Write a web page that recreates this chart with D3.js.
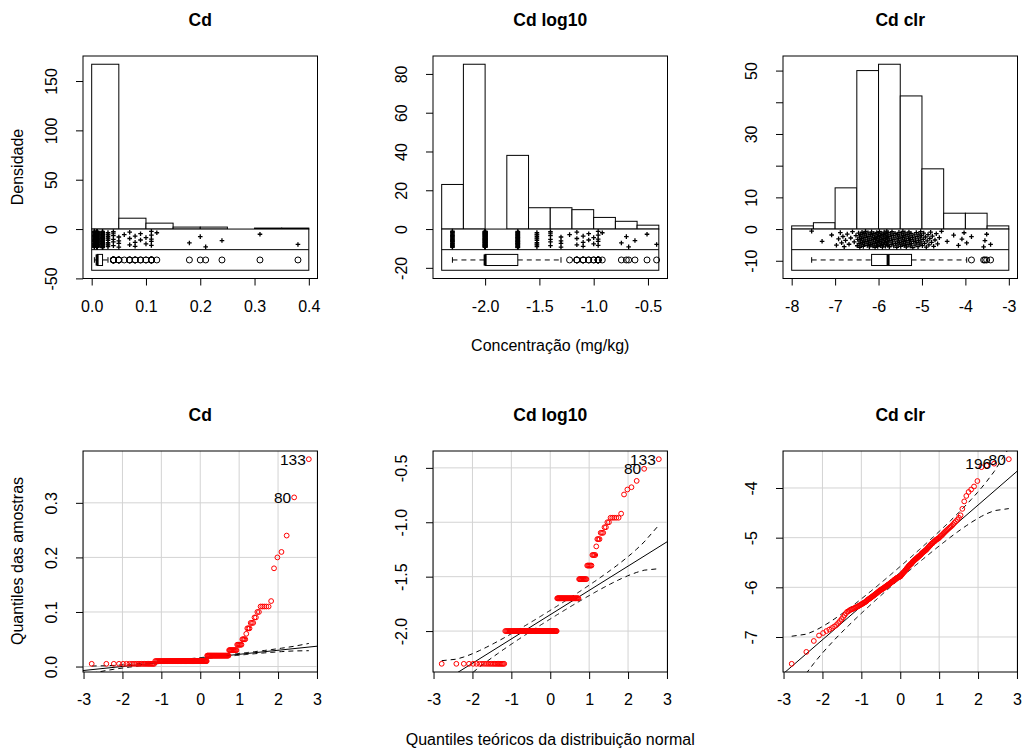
<!DOCTYPE html>
<html>
<head>
<meta charset="utf-8">
<script src="https://cdn.jsdelivr.net/npm/d3@7"></script>
<style>
  body { margin: 0; background: #fff; }
  svg { display: block; }
  text { font-family: "Liberation Sans", Arial, sans-serif; fill: #000; }
</style>
</head>
<body>
<svg id="chart" width="1022" height="751"></svg>
<script>
// Cd concentrations (mg/kg): distinct values and how many samples have each
const cdLevels = [0.005, 0.01, 0.02, 0.03, 0.04, 0.05, 0.06, 0.07, 0.08, 0.09, 0.1, 0.11, 0.12, 0.18, 0.2, 0.21, 0.24, 0.31, 0.38];
const cdCounts = [23, 85, 38, 11, 6, 4, 1, 3, 3, 2, 2, 5, 1, 1, 1, 1, 1, 1, 1];

const clrSample = [
  -7.54, -7.30, -7.08,
  -6.97, -6.92, -6.88, -6.85, -6.82, -6.79, -6.76, -6.72, -6.68, -6.64, -6.60, -6.56, -6.52,
  -6.49, -6.48, -6.46, -6.45, -6.44, -6.43, -6.42, -6.41, -6.40, -6.39,
  -6.38, -6.37, -6.36, -6.35, -6.34, -6.33, -6.32, -6.31, -6.30, -6.29,
  -6.28, -6.26, -6.25, -6.24, -6.23, -6.22, -6.21, -6.20, -6.19, -6.18,
  -6.17, -6.16, -6.15, -6.14, -6.13, -6.12, -6.11, -6.10, -6.09, -6.08,
  -6.07, -6.06, -6.05, -6.05, -6.04, -6.03, -6.02, -6.02, -6.01, -6.00,
  -5.99, -5.98, -5.98, -5.97, -5.96, -5.95, -5.94, -5.94, -5.93, -5.92,
  -5.91, -5.90, -5.89, -5.89, -5.88, -5.87, -5.86, -5.85, -5.84, -5.84,
  -5.83, -5.82, -5.81, -5.81, -5.80, -5.80, -5.79, -5.79,
  -5.78, -5.78, -5.76, -5.75, -5.74, -5.72, -5.71, -5.70, -5.69, -5.68,
  -5.66, -5.65, -5.64, -5.62, -5.61, -5.60, -5.58, -5.57, -5.56, -5.55,
  -5.54, -5.53, -5.52, -5.51,
  -5.49, -5.48, -5.47, -5.46, -5.45, -5.44, -5.43, -5.42, -5.41, -5.40,
  -5.39, -5.38, -5.37, -5.36, -5.35, -5.34, -5.32, -5.31, -5.30, -5.29,
  -5.28, -5.27, -5.26, -5.25,
  -5.24, -5.22, -5.21, -5.19, -5.18, -5.16, -5.15, -5.13, -5.12, -5.11,
  -5.09, -5.08, -5.07, -5.05, -5.04, -5.03, -5.02, -5.01,
  -4.99, -4.97, -4.96, -4.94, -4.92, -4.90, -4.88, -4.86, -4.84, -4.82,
  -4.80, -4.78, -4.76, -4.73, -4.70, -4.67, -4.64, -4.60, -4.55,
  -4.42, -4.27, -4.16, -4.08, -4.03,
  -3.97, -3.86, -3.58, -3.55, -3.51,
  -3.42
];

const titles = ["Cd", "Cd log10", "Cd clr"];
const histBreaks = [
  [0, 0.05, 0.1, 0.15, 0.2, 0.25, 0.3, 0.35, 0.4],
  [-2.4, -2.2, -2.0, -1.8, -1.6, -1.4, -1.2, -1.0, -0.8, -0.6, -0.4],
  [-8, -7.5, -7, -6.5, -6, -5.5, -5, -4.5, -4, -3.5, -3]
];
const histXTicks = [[0, 0.1, 0.2, 0.3, 0.4], [-2, -1.5, -1, -0.5], [-8, -7, -6, -5, -4, -3]];
const histYTicks = [[-50, 0, 50, 100, 150], [-20, 0, 20, 40, 60, 80], [-10, 0, 10, 20, 30, 40, 50]];
const histYLabelled = [[-50, 0, 50, 100, 150], [-20, 0, 20, 40, 60, 80], [-10, 0, 10, 30, 50]];
const qqXTicks = [-3, -2, -1, 0, 1, 2, 3];
const qqYTicks = [[0, 0.1, 0.2, 0.3], [-2, -1.5, -1, -0.5], [-7, -6, -5, -4]];
const qqIds = [["133", "80"], ["133", "80"], ["80", "196"]];

const cdSample = cdLevels.flatMap((v, i) => d3.range(cdCounts[i]).map(() => v));
const logSample = cdSample.map(v => Math.log10(v));
const samples = [cdSample, logSample, clrSample];

const loc = d3.formatLocale({ decimal: ".", thousands: ",", grouping: [3], currency: ["", ""], minus: "-" });
const f1 = loc.format(".1f"), f0 = loc.format("d");
const histXFmt = [f1, f1, f0];
const qqYFmt = [f1, f1, f0];

const svg = d3.select("#chart");
const colX = [83, 433, 783];
const boxW = 234.5;
const rows = [{ y: 56, h: 222.5 }, { y: 451, h: 221 }];
const tickFont = "16px";

function qnorm(p) {
  const a = [-39.69683028665376, 220.9460984245205, -275.9285104469687, 138.3577518672690, -30.66479806614716, 2.506628277459239];
  const b = [-54.47609879822406, 161.5858368580409, -155.6989798598866, 66.80131188771972, -13.28068155288572];
  const c = [-0.007784894002430293, -0.3223964580411365, -2.400758277161838, -2.549732539343734, 4.374664141464968, 2.938163982698783];
  const d = [0.007784695709041462, 0.3224671290700398, 2.445134137142996, 3.754408661907416];
  if (p < 0.02425) {
    const q = Math.sqrt(-2 * Math.log(p));
    return (((((c[0] * q + c[1]) * q + c[2]) * q + c[3]) * q + c[4]) * q + c[5]) / ((((d[0] * q + d[1]) * q + d[2]) * q + d[3]) * q + 1);
  }
  if (p > 1 - 0.02425) return -qnorm(1 - p);
  const q = p - 0.5, r = q * q;
  return (((((a[0] * r + a[1]) * r + a[2]) * r + a[3]) * r + a[4]) * r + a[5]) * q /
    (((((b[0] * r + b[1]) * r + b[2]) * r + b[3]) * r + b[4]) * r + 1);
}
const dnorm = z => Math.exp(-z * z / 2) / Math.sqrt(2 * Math.PI);

function fivenum(s) {
  const n = s.length, n4 = Math.floor((n + 3) / 2) / 2;
  return [1, n4, (n + 1) / 2, n + 1 - n4, n].map(d => 0.5 * (s[Math.floor(d) - 1] + s[Math.ceil(d) - 1]));
}

function styleAxis(g) {
  g.select(".domain").remove();
  g.selectAll("line").attr("stroke", "#000");
  g.selectAll("text").attr("font-size", tickFont).attr("fill", "#000");
}

function drawXAxis(g, x, yPos, ticks, fmt) {
  g.append("g")
    .attr("transform", `translate(0,${yPos})`)
    .call(d3.axisBottom(x).tickValues(ticks).tickFormat(fmt).tickSize(7))
    .call(styleAxis)
    .call(a => a.selectAll("text").attr("y", 33).attr("dy", null));
}

function drawYAxis(g, y, xPos, ticks, fmt) {
  g.append("g")
    .attr("transform", `translate(${xPos},0)`)
    .call(d3.axisLeft(y).tickValues(ticks).tickFormat(fmt).tickSize(7))
    .call(styleAxis)
    .call(a => a.selectAll("text")
      .attr("x", null).attr("dy", null)
      .attr("text-anchor", "middle")
      .attr("transform", "translate(-26,0) rotate(-90)"));
}

function title(cx, baseline, txt) {
  svg.append("text").attr("x", cx).attr("y", baseline).attr("text-anchor", "middle")
    .attr("font-size", "17.5px").attr("font-weight", "bold").text(txt);
}

// ---------- top row: histograms + strip + boxplot ----------
samples.forEach((vals, c) => {
  const breaks = histBreaks[c];
  const left = colX[c], top = rows[0].y, h = rows[0].h;
  const g = svg.append("g");
  const eps = 1e-9;
  const counts = d3.range(breaks.length - 1).map(k =>
    vals.filter(v => (k === 0 ? v >= breaks[0] - eps : v > breaks[k] + eps) && v <= breaks[k + 1] + eps).length);
  const M = d3.max(counts);
  const yLo = -M / 4, ey = 0.04 * (M - yLo);
  const y = d3.scaleLinear().domain([yLo - ey, M + ey]).range([top + h, top]);
  const b0 = breaks[0], bN = breaks[breaks.length - 1], ex = 0.04 * (bN - b0);
  const x = d3.scaleLinear().domain([b0 - ex, bN + ex]).range([left, left + boxW]);

  g.selectAll(".bar").data(counts).join("rect")
    .attr("x", (d, k) => x(breaks[k])).attr("width", (d, k) => x(breaks[k + 1]) - x(breaks[k]))
    .attr("y", d => y(d)).attr("height", d => y(0) - y(d))
    .attr("fill", "#fff").attr("stroke", "#000").attr("stroke-width", 1);

  // strip and box bands
  g.append("rect").attr("x", x(b0)).attr("width", x(bN) - x(b0))
    .attr("y", y(0)).attr("height", y(-M / 4) - y(0))
    .attr("fill", "#fff").attr("stroke", "#000");
  g.append("line").attr("x1", x(b0)).attr("x2", x(bN)).attr("y1", y(-M / 8)).attr("y2", y(-M / 8)).attr("stroke", "#000");

  // jittered strip chart
  g.selectAll(".pt").data(vals).join("path")
    .attr("transform", (d, i) => `translate(${x(d)},${y(-M / 8 * (0.1 + 0.8 * ((i * 0.6180339887) % 1)))})`)
    .attr("d", "M-2.3,0H2.3M0,-2.3V2.3").attr("stroke", "#000").attr("stroke-width", 1.3);

  // horizontal boxplot
  const s = vals.slice().sort(d3.ascending);
  const [, q1, med, q3] = fivenum(s);
  const iqr = q3 - q1;
  const loW = d3.min(s.filter(v => v >= q1 - 1.5 * iqr));
  const hiW = d3.max(s.filter(v => v <= q3 + 1.5 * iqr));
  const outs = s.filter(v => v < loW || v > hiW);
  const cy = y(-3 * M / 16), bh = (y(-M / 4) - y(-M / 8)) * 0.27;
  g.append("line").attr("x1", x(loW)).attr("x2", x(q1)).attr("y1", cy).attr("y2", cy).attr("stroke", "#000").attr("stroke-dasharray", "5,4");
  g.append("line").attr("x1", x(q3)).attr("x2", x(hiW)).attr("y1", cy).attr("y2", cy).attr("stroke", "#000").attr("stroke-dasharray", "5,4");
  [loW, hiW].forEach(v => g.append("line").attr("x1", x(v)).attr("x2", x(v)).attr("y1", cy - bh / 2).attr("y2", cy + bh / 2).attr("stroke", "#000"));
  g.append("rect").attr("x", x(q1)).attr("width", Math.max(x(q3) - x(q1), 0.5)).attr("y", cy - bh).attr("height", 2 * bh)
    .attr("fill", "#fff").attr("stroke", "#000");
  g.append("line").attr("x1", x(med)).attr("x2", x(med)).attr("y1", cy - bh).attr("y2", cy + bh).attr("stroke", "#000").attr("stroke-width", 3);
  g.selectAll(".out").data(outs).join("circle")
    .attr("cx", d => x(d)).attr("cy", cy).attr("r", 3).attr("fill", "none").attr("stroke", "#000");

  // frame and axes
  g.append("rect").attr("x", left).attr("y", top).attr("width", boxW).attr("height", h).attr("fill", "none").attr("stroke", "#000");
  drawXAxis(g, x, top + h, histXTicks[c], histXFmt[c]);
  const lab = histYLabelled[c];
  drawYAxis(g, y, left, histYTicks[c], d => lab.includes(d) ? f0(d) : "");
  title(left + boxW / 2, 26, titles[c]);
});

// ---------- bottom row: normal QQ plots ----------
samples.forEach((vals, c) => {
  const left = colX[c], top = rows[1].y, h = rows[1].h;
  const g = svg.append("g");
  const s = vals.slice().sort(d3.ascending), n = s.length;
  const P = s.map((v, i) => (i + 0.5) / n);
  const z = P.map(qnorm);
  const zr = z[n - 1] - z[0], yr = s[n - 1] - s[0];
  const x = d3.scaleLinear().domain([z[0] - 0.04 * zr, z[n - 1] + 0.04 * zr]).range([left, left + boxW]);
  const y = d3.scaleLinear().domain([s[0] - 0.04 * yr, s[n - 1] + 0.04 * yr]).range([top + h, top]);

  const clipId = `clip-qq-${c}`;
  svg.append("clipPath").attr("id", clipId).append("rect")
    .attr("x", left).attr("y", top).attr("width", boxW).attr("height", h);
  const inner = g.append("g").attr("clip-path", `url(#${clipId})`);

  // grid
  inner.selectAll(".gx").data(qqXTicks).join("line")
    .attr("x1", d => x(d)).attr("x2", d => x(d)).attr("y1", top).attr("y2", top + h)
    .attr("stroke", "#d3d3d3").attr("stroke-width", 1);
  inner.selectAll(".gy").data(qqYTicks[c]).join("line")
    .attr("x1", left).attr("x2", left + boxW).attr("y1", d => y(d)).attr("y2", d => y(d))
    .attr("stroke", "#d3d3d3").attr("stroke-width", 1);

  // reference line through the quartiles, with pointwise envelope
  const Q1 = d3.quantileSorted(s, 0.25), Q3 = d3.quantileSorted(s, 0.75);
  const bSlope = (Q3 - Q1) / (qnorm(0.75) - qnorm(0.25));
  const aInt = Q1 - bSlope * qnorm(0.25);
  const zz = qnorm(0.975);
  const se = z.map((zi, i) => (bSlope / dnorm(zi)) * Math.sqrt(P[i] * (1 - P[i]) / n));
  const line = d3.line().x(d => x(d[0])).y(d => y(d[1]));
  inner.append("path").attr("d", line(x.domain().map(zi => [zi, aInt + bSlope * zi])))
    .attr("fill", "none").attr("stroke", "#000").attr("stroke-width", 1);
  [1, -1].forEach(sg => inner.append("path")
    .attr("d", line(z.map((zi, i) => [zi, aInt + bSlope * zi + sg * zz * se[i]])))
    .attr("fill", "none").attr("stroke", "#000").attr("stroke-width", 1).attr("stroke-dasharray", "5,4"));

  inner.selectAll(".qp").data(s).join("circle")
    .attr("cx", (d, i) => x(z[i])).attr("cy", d => y(d)).attr("r", 2.4)
    .attr("fill", "none").attr("stroke", "#ff0000").attr("stroke-width", 1);

  // labels of the two largest samples (they overlap in the original too)
  qqIds[c].forEach((lab, k) => {
    const i = n - 1 - k;
    g.append("text").attr("x", x(z[i]) - 3).attr("y", y(s[i]) + 5.5)
      .attr("text-anchor", "end").attr("font-size", "15.5px").attr("fill", "#333").text(lab);
  });

  g.append("rect").attr("x", left).attr("y", top).attr("width", boxW).attr("height", h).attr("fill", "none").attr("stroke", "#000");
  drawXAxis(g, x, top + h, qqXTicks, f0);
  drawYAxis(g, y, left, qqYTicks[c], qqYFmt[c]);
  title(left + boxW / 2, 421, titles[c]);
});

// axis titles
svg.append("text").attr("transform", "translate(23,167) rotate(-90)").attr("text-anchor", "middle")
  .attr("font-size", "16px").text("Densidade");
svg.append("text").attr("x", colX[1] + boxW / 2).attr("y", 351).attr("text-anchor", "middle")
  .attr("font-size", "16px").text("Concentração (mg/kg)");
svg.append("text").attr("transform", "translate(23,561) rotate(-90)").attr("text-anchor", "middle")
  .attr("font-size", "16px").text("Quantiles das amostras");
svg.append("text").attr("x", colX[1] + boxW / 2).attr("y", 745).attr("text-anchor", "middle")
  .attr("font-size", "16px").text("Quantiles teóricos da distribuição normal");
</script>
</body>
</html>
